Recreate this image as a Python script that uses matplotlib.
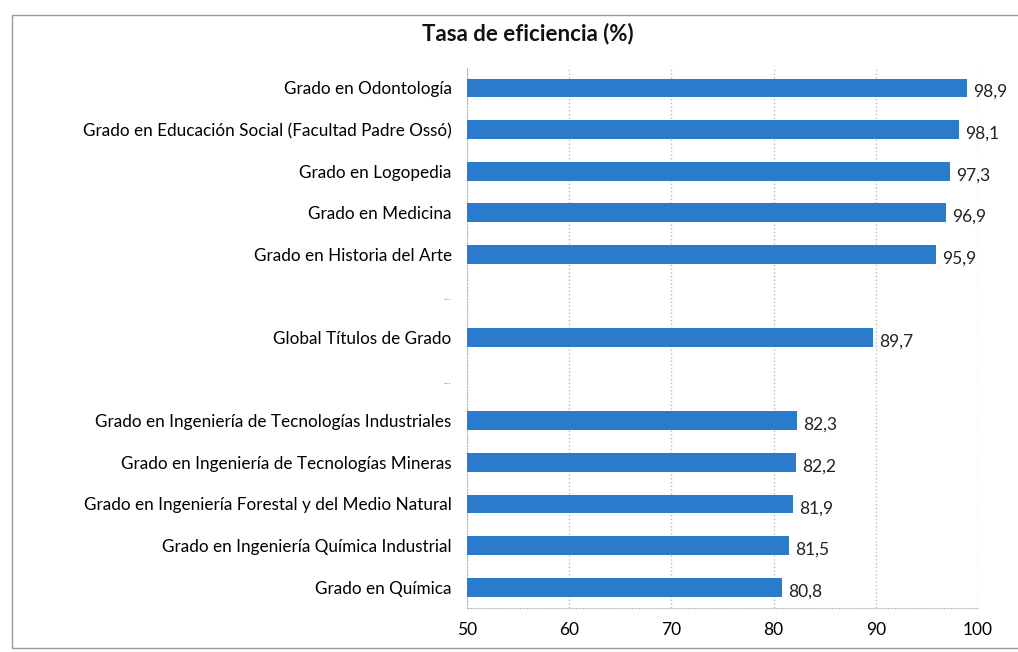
import matplotlib
matplotlib.use("Agg")
import matplotlib.pyplot as plt
from matplotlib.patches import Rectangle
import numpy as np

plt.rcParams['font.family'] = ['Lato', 'DejaVu Sans']

categories = [
    "Grado en Odontología",
    "Grado en Educación Social (Facultad Padre Ossó)",
    "Grado en Logopedia",
    "Grado en Medicina",
    "Grado en Historia del Arte",
    "...",
    "Global Títulos de Grado",
    "...",
    "Grado en Ingeniería de Tecnologías Industriales",
    "Grado en Ingeniería de Tecnologías Mineras",
    "Grado en Ingeniería Forestal y del Medio Natural",
    "Grado en Ingeniería Química Industrial",
    "Grado en Química",
]
values = [98.9, 98.1, 97.3, 96.9, 95.9, None, 89.7, None, 82.3, 82.2, 81.9, 81.5, 80.8]
value_labels = ["98,9", "98,1", "97,3", "96,9", "95,9", "", "89,7", "", "82,3", "82,2", "81,9", "81,5", "80,8"]
xticks = [50, 60, 70, 80, 90, 100]

fig = plt.figure(figsize=(10.18, 6.52), dpi=100)
ax = fig.add_axes([0.4587, 0.0675, 0.5020, 0.8295])

y = np.arange(len(categories))
vals = [v if v is not None else np.nan for v in values]
ax.barh(y, vals, left=0, height=0.45, color='#2a7bcc', zorder=3)
for yi, v, lab in zip(y, values, value_labels):
    if v is not None:
        ax.text(v + 0.6, yi + 0.1, lab, va='center', ha='left', fontsize=12.5, color='#222222')

ax.set_xlim(50, 100)
ax.set_ylim(len(categories) - 0.5, -0.5)
ax.set_xticks(xticks)
ax.set_xticklabels([str(t) for t in xticks], fontsize=12.5)
ax.set_yticks(y)
ax.set_yticklabels(categories, fontsize=12.3)
for lab in ax.get_yticklabels():
    if lab.get_text() == "...":
        lab.set_color('#999999')
        lab.set_fontsize(8)
ax.tick_params(axis='y', length=0, pad=11)
ax.tick_params(axis='x', length=0, pad=10)
ax.grid(axis='x', color='#bbbbbb', linestyle=':', linewidth=1, zorder=0)
for s in ['top', 'right']:
    ax.spines[s].set_visible(False)
ax.spines['left'].set_color('#bbbbbb')
ax.spines['left'].set_linestyle(':')
ax.spines['bottom'].set_color('#bbbbbb')
ax.spines['bottom'].set_linestyle(':')

fig.text(0.518, 0.948, "Tasa de eficiencia (%)", ha='center', va='center',
         fontsize=16, fontweight='bold', color='#111111')

fig.patches.append(Rectangle((12/1018, 1 - 648/652), 1.2, (648 - 15)/652,
                             transform=fig.transFigure, fill=False,
                             edgecolor='#999999', linewidth=1))

fig.savefig("out.png", dpi=100)
